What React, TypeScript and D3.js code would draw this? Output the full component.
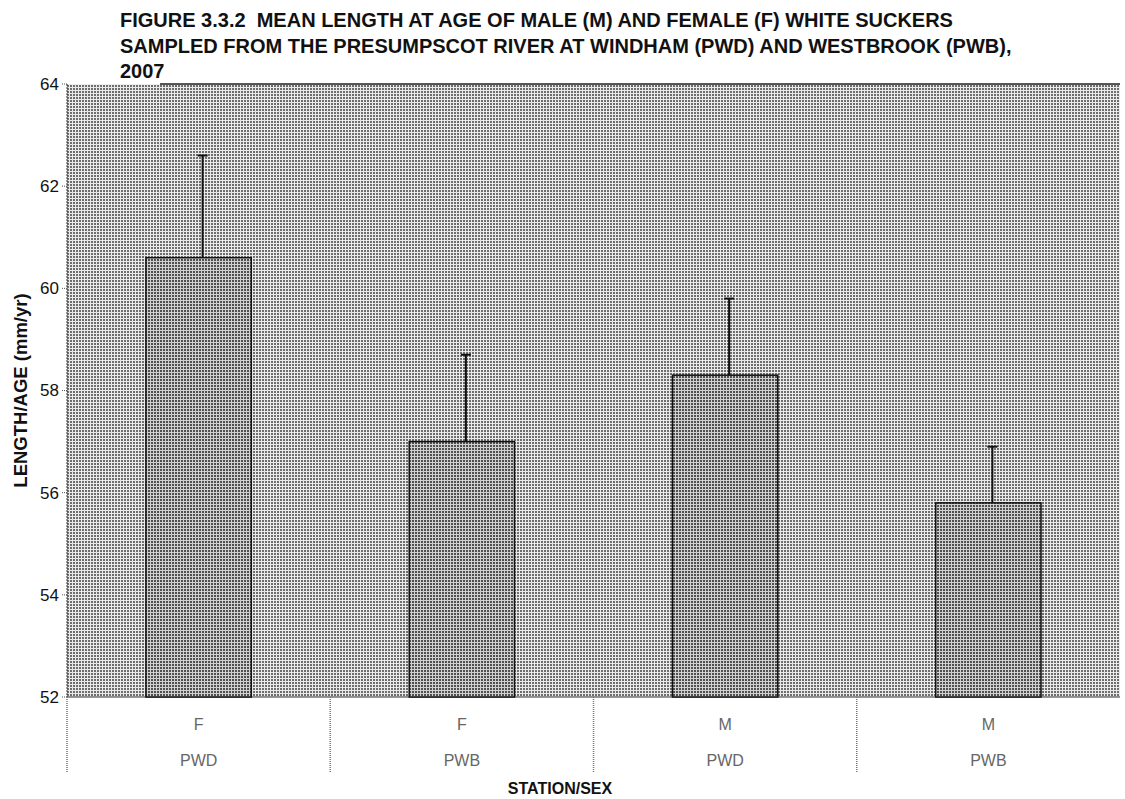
import * as d3 from 'd3';

const sexes = ['F', 'F', 'M', 'M'];
const stations = ['PWD', 'PWB', 'PWD', 'PWB'];
const means = [60.6, 57.0, 58.3, 55.8];
const errors = [2.0, 1.7, 1.5, 1.1];
const yTicks = [52, 54, 56, 58, 60, 62, 64];
const titleLines = [
  'FIGURE 3.3.2\u00A0 MEAN LENGTH AT AGE OF MALE (M) AND FEMALE (F) WHITE SUCKERS',
  'SAMPLED FROM THE PRESUMPSCOT RIVER AT WINDHAM (PWD) AND WESTBROOK (PWB),',
  '2007',
];

const width = 1125;
const height = 799;
const marginLeft = 67;
const marginRight = 5;
const marginTop = 84;
const plotBottom = 697;

export default function App() {
  const keys = means.map((_, i) => String(i));
  const x = d3.scaleBand(keys, [marginLeft, width - marginRight]).paddingInner(0.6).paddingOuter(0.3);
  const band = d3.scaleBand(keys, [marginLeft, width - marginRight]);
  const y = d3.scaleLinear([52, 64], [plotBottom, marginTop]);
  const font = 'Arial, "Liberation Sans", sans-serif';

  return (
    <svg width={width} height={height} style={{ position: 'absolute', left: 0, top: 0, background: '#fff' }}>
      <defs>
        <pattern id="bg" width="3" height="3" patternUnits="userSpaceOnUse">
          <rect width="3" height="3" fill="#6e6e6e" />
          <rect x="0" y="0" width="3" height="1" fill="#eaeaea" />
          <rect x="0" y="0" width="1" height="3" fill="#eaeaea" />
        </pattern>
        <pattern id="barfill" width="3" height="3" patternUnits="userSpaceOnUse">
          <rect width="3" height="3" fill="#505050" />
          <rect x="0" y="0" width="3" height="1" fill="#d0d0d0" />
          <rect x="0" y="0" width="1" height="3" fill="#d0d0d0" />
        </pattern>
      </defs>

      {/* title */}
      <g fontFamily={font} fontWeight="bold" fontSize="20" fill="#111">
        {titleLines.map((t, i) => (
          <text key={i} x={120} y={27 + i * 25.5}>{t}</text>
        ))}
      </g>

      {/* plot area */}
      <rect x={marginLeft} y={marginTop} width={width - marginRight - marginLeft} height={plotBottom - marginTop} fill="url(#bg)" />
      <line x1={160} x2={width - marginRight} y1={marginTop} y2={marginTop} stroke="#222" strokeWidth={1.5} />
      <line x1={marginLeft} x2={marginLeft} y1={marginTop} y2={plotBottom} stroke="#333" strokeWidth={1} strokeDasharray="2,1" />
      <line x1={marginLeft} x2={width - marginRight} y1={plotBottom} y2={plotBottom} stroke="#333" strokeWidth={1} />

      {/* y axis */}
      <g fontFamily={font} fontSize="17" fill="#111">
        {yTicks.map(t => (
          <g key={t}>
            <line x1={marginLeft - 5} x2={marginLeft} y1={y(t)} y2={y(t)} stroke="#555" strokeDasharray="1,1" />
            <text x={marginLeft - 8} y={y(t)} dy="0.35em" textAnchor="end">{t}</text>
          </g>
        ))}
      </g>
      <text
        transform={`translate(27,${(marginTop + plotBottom) / 2}) rotate(-90)`}
        textAnchor="middle"
        fontFamily={font}
        fontWeight="bold"
        fontSize="18.5"
        fill="#111"
      >
        LENGTH/AGE (mm/yr)
      </text>

      {/* bars */}
      {means.map((m, i) => {
        const bx = x(String(i))!;
        const cx = bx + x.bandwidth() / 2 + 4;
        return (
          <g key={i}>
            <line x1={cx} x2={cx} y1={y(m)} y2={y(m + errors[i])} stroke="#111" strokeWidth={2} />
            <line x1={cx - 5} x2={cx + 5} y1={y(m + errors[i])} y2={y(m + errors[i])} stroke="#111" strokeWidth={2} />
            <rect x={bx} y={y(m)} width={x.bandwidth()} height={y(52) - y(m)} fill="url(#barfill)" stroke="#111" strokeWidth={1.5} />
          </g>
        );
      })}

      {/* category axis */}
      <g fontFamily={font} fontSize="16" fill="#666">
        {keys.map((k, i) => (
          <g key={k}>
            <line x1={band(k)!} x2={band(k)!} y1={plotBottom} y2={773} stroke="#777" strokeWidth={1.5} strokeDasharray="1,1" />
            <text x={band(k)! + band.bandwidth() / 2} y={730} textAnchor="middle">{sexes[i]}</text>
            <text x={band(k)! + band.bandwidth() / 2} y={766} textAnchor="middle">{stations[i]}</text>
          </g>
        ))}
      </g>
      <text x={560} y={794} textAnchor="middle" fontFamily={font} fontWeight="bold" fontSize="16" fill="#111">
        STATION/SEX
      </text>
    </svg>
  );
}
